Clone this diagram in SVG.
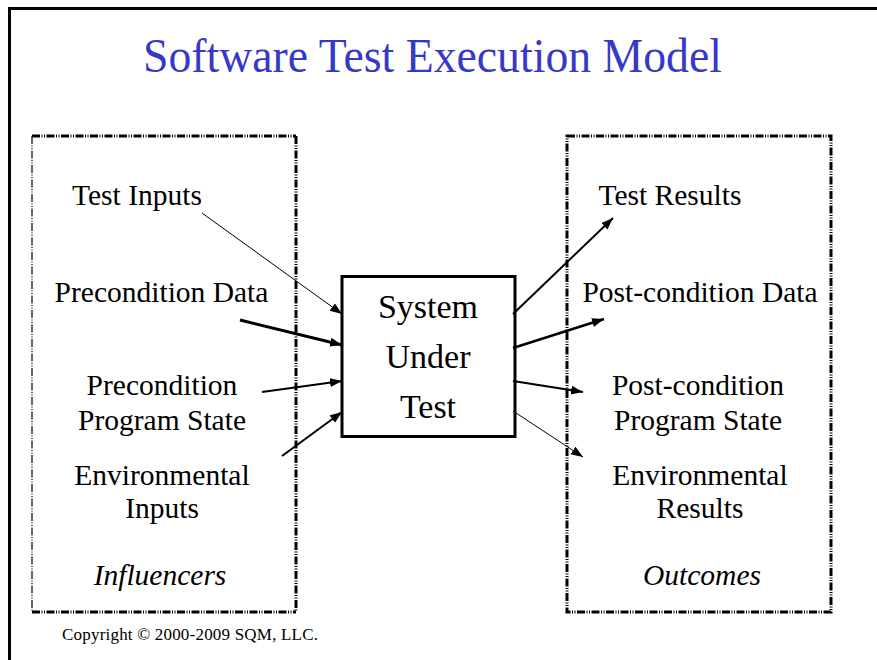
<svg xmlns="http://www.w3.org/2000/svg" width="877" height="660" viewBox="0 0 877 660">
<defs>
<style>
.t{font-family:"Liberation Serif","Times New Roman",serif;fill:#000;}
.lbl{font-size:29.5px;text-anchor:middle;}
.it{font-style:italic;}
.c{stroke:#000;fill:none;}
.dash{stroke:#000;fill:none;stroke-dasharray:8 1.5 1 1.5 1 1.5;}
</style>
<marker id="ah" markerUnits="userSpaceOnUse" markerWidth="13" markerHeight="10" refX="12" refY="4.5" orient="auto">
<path d="M0,0 L12,4.5 L0,9 z" fill="#000"/>
</marker>
</defs>
<rect width="877" height="660" fill="#fff"/>
<g id="frame">
<path d="M9.5,665 V8.5 H885" fill="none" stroke="#000" stroke-width="3"/>
</g>
<g id="title">
<text class="t" x="432.5" y="72" font-size="48" text-anchor="middle" fill="#3838c8" style="fill:#3838c8" textLength="579" lengthAdjust="spacingAndGlyphs">Software Test Execution Model</text>
</g>
<g id="influencers">
<path class="dash" d="M32,136 H296" stroke-width="3"/>
<path class="dash" d="M32,136 V612" stroke-width="1.2"/>
<path class="dash" d="M296,136 V612" stroke-width="3"/>
<path class="dash" d="M32,612 H296" stroke-width="3"/>
<text class="t lbl" x="137" y="205">Test Inputs</text>
<text class="t lbl" x="161.5" y="302">Precondition Data</text>
<text class="t lbl" x="162" y="395">Precondition</text>
<text class="t lbl" x="162" y="430">Program State</text>
<text class="t lbl" x="162" y="485">Environmental</text>
<text class="t lbl" x="162" y="518">Inputs</text>
<text class="t lbl it" x="160" y="585">Influencers</text>
</g>
<g id="outcomes">
<path class="dash" d="M567,136 H831 V612 H567 Z" stroke-width="3"/>
<text class="t lbl" x="670" y="205">Test Results</text>
<text class="t lbl" x="700" y="302">Post-condition Data</text>
<text class="t lbl" x="698" y="395">Post-condition</text>
<text class="t lbl" x="698" y="430">Program State</text>
<text class="t lbl" x="700" y="485">Environmental</text>
<text class="t lbl" x="700" y="518">Results</text>
<text class="t lbl it" x="702" y="585">Outcomes</text>
</g>
<g id="sut">
<rect x="342" y="276.5" width="173" height="160" fill="#fff" stroke="#000" stroke-width="3"/>
<text class="t" x="428" y="318" font-size="34" text-anchor="middle">System</text>
<text class="t" x="428" y="368" font-size="34" text-anchor="middle">Under</text>
<text class="t" x="428" y="418" font-size="34" text-anchor="middle">Test</text>
</g>
<g id="connectors">
<line class="c" x1="202" y1="213" x2="342" y2="314" stroke-width="1" marker-end="url(#ah)"/>
<line class="c" x1="240" y1="320" x2="342" y2="345" stroke-width="3" marker-end="url(#ah)"/>
<line class="c" x1="262" y1="392" x2="342" y2="381" stroke-width="2" marker-end="url(#ah)"/>
<line class="c" x1="282" y1="456" x2="342" y2="412" stroke-width="2" marker-end="url(#ah)"/>
<line class="c" x1="513" y1="314" x2="613" y2="218" stroke-width="2" marker-end="url(#ah)"/>
<line class="c" x1="513" y1="348" x2="604" y2="319" stroke-width="2.5" marker-end="url(#ah)"/>
<line class="c" x1="513" y1="381" x2="583" y2="392" stroke-width="2" marker-end="url(#ah)"/>
<line class="c" x1="513" y1="411" x2="583" y2="457" stroke-width="1" marker-end="url(#ah)"/>
</g>
<g id="copyright">
<text class="t" x="62" y="640" font-size="17" textLength="256" lengthAdjust="spacing">Copyright © 2000-2009 SQM, LLC.</text>
</g>
</svg>
